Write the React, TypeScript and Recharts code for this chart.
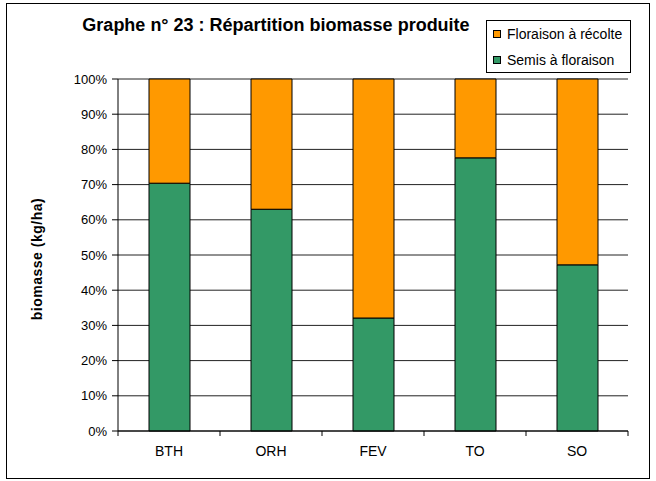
import React from 'react';
import { BarChart, Bar, XAxis, YAxis, CartesianGrid, Legend } from 'recharts';

// values (share of produced biomass, %)
const categories = ['BTH', 'ORH', 'FEV', 'TO', 'SO'];
const semisFloraison = [70.4, 63.0, 32.1, 77.6, 47.2];
const floraisonRecolte = [29.6, 37.0, 67.9, 22.4, 52.8];
const percentTicks = [0, 10, 20, 30, 40, 50, 60, 70, 80, 90, 100];
const legendOrder = ['Floraison à récolte', 'Semis à floraison'];

const GREEN = '#339966';
const ORANGE = '#FF9900';
const FONT = '"Liberation Sans", Arial, sans-serif';

const data = categories.map((name, i) => ({
  name,
  semis: semisFloraison[i],
  recolte: floraisonRecolte[i],
}));

// category label plus the small tick marks sitting between categories
const CategoryTick = (props: any) => {
  const { x, y, payload, index, width, visibleTicksCount } = props;
  const half = (payload && payload.offset) || width / visibleTicksCount / 2;
  return (
    <g>
      <line x1={x - half} x2={x - half} y1={y} y2={y + 5} stroke="#000" />
      {index === visibleTicksCount - 1 && (
        <line x1={x + half} x2={x + half} y1={y} y2={y + 5} stroke="#000" />
      )}
      <text
        x={x}
        y={y + 25}
        textAnchor="middle"
        fill="#000"
        style={{ fontSize: 14, fontFamily: FONT }}
      >
        {payload.value}
      </text>
    </g>
  );
};

const renderLegend = (props: any) => {
  const items = [...(props.payload || [])].sort(
    (a: any, b: any) => legendOrder.indexOf(a.value) - legendOrder.indexOf(b.value)
  );
  return (
    <div
      style={{
        boxSizing: 'border-box',
        width: 145,
        height: 53,
        border: '1px solid #000',
        background: '#fff',
        fontFamily: FONT,
        fontSize: 14,
        color: '#000',
      }}
    >
      {items.map((item: any) => (
        <div key={item.value} style={{ display: 'flex', alignItems: 'center', height: 26 }}>
          <span
            style={{
              display: 'inline-block',
              boxSizing: 'border-box',
              width: 8,
              height: 8,
              marginLeft: 6,
              marginRight: 6,
              border: '1px solid #000',
              background: item.color,
            }}
          />
          <span style={{ whiteSpace: 'nowrap' }}>{item.value}</span>
        </div>
      ))}
    </div>
  );
};

export default function App() {
  return (
    <div style={{ position: 'absolute', left: 0, top: 0, width: 656, height: 481, background: '#fff', fontFamily: FONT }}>
      <div
        style={{
          position: 'absolute',
          left: 6,
          top: 3,
          width: 644,
          height: 476,
          boxSizing: 'border-box',
          border: '1px solid #000',
        }}
      />
      <div
        style={{
          position: 'absolute',
          left: 76,
          top: 16,
          width: 400,
          textAlign: 'center',
          fontSize: 18,
          lineHeight: '18px',
          fontWeight: 'bold',
          whiteSpace: 'nowrap',
        }}
      >
        Graphe n° 23 : Répartition biomasse produite
      </div>
      <div
        style={{
          position: 'absolute',
          left: 37,
          top: 259,
          transform: 'translate(-50%, -50%) rotate(-90deg)',
          fontSize: 14,
          fontWeight: 'bold',
          whiteSpace: 'nowrap',
          letterSpacing: 0.5,
        }}
      >
        biomasse (kg/ha)
      </div>
      <div style={{ position: 'absolute', left: 0, top: 0 }}>
        <BarChart
          width={656}
          height={481}
          data={data}
          margin={{ top: 79, right: 28, bottom: 20, left: 58 }}
          barCategoryGap={0}
        >
          <CartesianGrid vertical={false} stroke="#222" />
          <XAxis
            dataKey="name"
            height={30}
            axisLine={{ stroke: '#000' }}
            tickLine={false}
            tickSize={0}
            tickMargin={0}
            tick={<CategoryTick />}
            interval={0}
          />
          <YAxis
            width={60}
            domain={[0, 100]}
            ticks={percentTicks}
            tickFormatter={(v: number) => `${v}%`}
            axisLine={{ stroke: '#000' }}
            tickLine={{ stroke: '#000' }}
            tickSize={6}
            tickMargin={5}
            tick={{ fontSize: 13, fill: '#000', fontFamily: FONT }}
            interval={0}
          />
          <YAxis
            yAxisId="frame"
            orientation="right"
            width={0}
            domain={[0, 100]}
            tick={false}
            tickLine={false}
            axisLine={{ stroke: '#999' }}
          />
          <Legend
            layout="vertical"
            align="center"
            verticalAlign="middle"
            wrapperStyle={{ left: 486, top: 20, width: 145, height: 53 }}
            content={renderLegend}
          />
          <Bar
            dataKey="semis"
            name="Semis à floraison"
            stackId="a"
            fill={GREEN}
            stroke="#000"
            strokeWidth={1}
            barSize={41}
            isAnimationActive={false}
          />
          <Bar
            dataKey="recolte"
            name="Floraison à récolte"
            stackId="a"
            fill={ORANGE}
            stroke="#000"
            strokeWidth={1}
            barSize={41}
            isAnimationActive={false}
          />
        </BarChart>
      </div>
    </div>
  );
}
